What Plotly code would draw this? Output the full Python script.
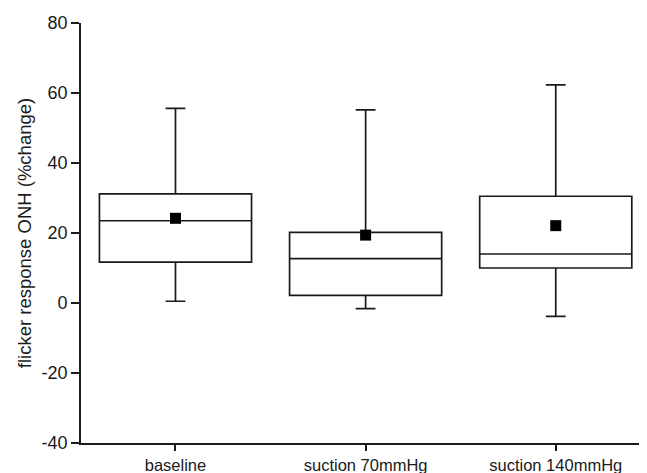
import plotly.graph_objects as go

categories = ["baseline", "suction 70mmHg", "suction 140mmHg"]
lower_whisker = [0.5, -1.6, -3.8]
q1 = [11.7, 2.2, 10.0]
median = [23.5, 12.7, 14.0]
q3 = [31.2, 20.2, 30.5]
upper_whisker = [55.6, 55.2, 62.3]
mean = [24.2, 19.4, 22.1]
y_ticks = [-40, -20, 0, 20, 40, 60, 80]
y_tick_text = ["-40", "-20", "0", "20", "40", "60", "80"]

fig = go.Figure()
for i, c in enumerate(categories):
    fig.add_trace(go.Box(
        x=[c], q1=[q1[i]], median=[median[i]], q3=[q3[i]],
        lowerfence=[lower_whisker[i]], upperfence=[upper_whisker[i]],
        fillcolor="white", line=dict(color="#1a1a1a", width=1.7),
        width=0.8, whiskerwidth=0.13, boxpoints=False, showlegend=False,
        hoverinfo="skip",
    ))
fig.add_trace(go.Scatter(
    x=categories, y=mean, mode="markers",
    marker=dict(symbol="square", size=11, color="black"),
    showlegend=False,
))

fig.update_layout(
    width=639, height=465,
    margin=dict(l=73, r=0, t=15, b=30),
    paper_bgcolor="white", plot_bgcolor="white",
    font=dict(family="Liberation Sans, Arial, sans-serif", size=16, color="#1a1a1a"),
    boxmode="overlay",
)
fig.update_xaxes(
    type="category", range=[-0.497, 2.48],
    showline=True, linecolor="#1a1a1a", linewidth=1.7,
    ticks="outside", ticklen=6, tickwidth=1.7, tickcolor="#1a1a1a",
    showgrid=False, zeroline=False, tickfont=dict(size=16.5),
)
fig.update_yaxes(
    range=[-40, 80], tickvals=y_ticks, ticktext=y_tick_text,
    showline=True, linecolor="#1a1a1a", linewidth=1.7,
    ticks="outside", ticklen=8, tickwidth=1.7, tickcolor="#1a1a1a",
    showgrid=False, zeroline=False, tickfont=dict(size=18),
    title=dict(text="flicker response ONH (%change)", font=dict(size=18.5), standoff=5),
)

fig.write_html("out.html")
